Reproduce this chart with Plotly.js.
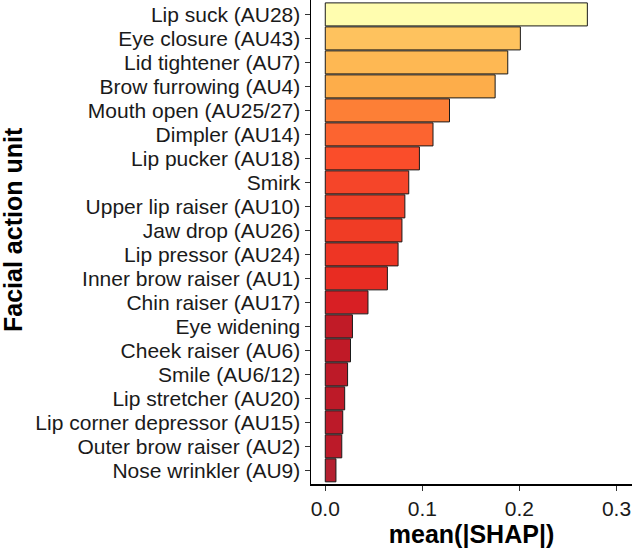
<!DOCTYPE html>
<html>
<head>
<meta charset="utf-8">
<script src="https://cdn.plot.ly/plotly-3.0.1.min.js"></script>
<style>html,body{margin:0;padding:0;background:#fff;}#chart{width:632px;height:548px;}</style>
</head>
<body>
<div id="chart"></div>
<script>
// Facial action units, top to bottom
const units = [
  "Lip suck (AU28)", "Eye closure (AU43)", "Lid tightener (AU7)", "Brow furrowing (AU4)",
  "Mouth open (AU25/27)", "Dimpler (AU14)", "Lip pucker (AU18)", "Smirk",
  "Upper lip raiser (AU10)", "Jaw drop (AU26)", "Lip pressor (AU24)", "Inner brow raiser (AU1)",
  "Chin raiser (AU17)", "Eye widening", "Cheek raiser (AU6)", "Smile (AU6/12)",
  "Lip stretcher (AU20)", "Lip corner depressor (AU15)", "Outer brow raiser (AU2)", "Nose wrinkler (AU9)"
];
const meanAbsShap = [
  0.270, 0.201, 0.188, 0.175, 0.128, 0.111, 0.097, 0.086,
  0.082, 0.079, 0.075, 0.064, 0.044, 0.028, 0.026, 0.023,
  0.020, 0.018, 0.017, 0.011
];
const barColors = [
  "#FFFDAF", "#FEC25E", "#FEB853", "#FDAD4A", "#FD7F36", "#FC6430", "#FA4D2A", "#F54529",
  "#F24027", "#F03C25", "#EE3524", "#E82C22", "#D81F24", "#C11B27", "#C01A27", "#BD1A28",
  "#BD1A28", "#BC1A29", "#BC1A29", "#B42030"
];
const xTicks = [0.0, 0.1, 0.2, 0.3];
const xTickText = ["0.0", "0.1", "0.2", "0.3"];
const xTitle = "mean(|SHAP|)";
const yTitle = "Facial action unit";

const font = "Liberation Sans, Arial, Helvetica, sans-serif";

const trace = {
  type: "bar",
  orientation: "h",
  x: meanAbsShap,
  y: units,
  width: 0.96,
  marker: { color: barColors, line: { color: "#1a1a1a", width: 1 } },
  hoverinfo: "x+y"
};

const layout = {
  width: 632, height: 548,
  margin: { l: 311, r: 0, t: 0, b: 64 },
  paper_bgcolor: "#fff", plot_bgcolor: "#fff",
  showlegend: false,
  font: { family: font, color: "#000" },
  xaxis: {
    range: [-0.0147, 0.316],
    tickvals: xTicks, ticktext: xTickText,
    ticks: "outside", ticklen: 5, tickwidth: 1.5, tickcolor: "#333",
    showline: true, linecolor: "#000", linewidth: 1.5,
    showgrid: false, zeroline: false,
    tickfont: { size: 21, color: "#1a1a1a", family: font },
    title: { text: xTitle, font: { size: 25, family: font, weight: "bold", color: "#000" }, standoff: 3 }
  },
  yaxis: {
    type: "category",
    categoryorder: "array",
    categoryarray: units.slice().reverse(),
    tickmode: "array",
    tickvals: units,
    ticktext: units,
    range: [-0.57, 19.6],
    ticks: "outside", ticklen: 5, tickwidth: 1.5, tickcolor: "#333",
    showline: true, linecolor: "#000", linewidth: 1.5,
    showgrid: false, zeroline: false,
    tickfont: { size: 21, color: "#1a1a1a", family: font }
  },
  annotations: [{
    text: yTitle, textangle: -90, showarrow: false,
    xref: "paper", yref: "paper", x: (13 - 311) / 321, y: 0.5248,
    xanchor: "center", yanchor: "middle",
    font: { size: 25, family: font, weight: "bold", color: "#000" }
  }]
};

Plotly.newPlot("chart", [trace], layout, { staticPlot: true, displayModeBar: false });
</script>
</body>
</html>
